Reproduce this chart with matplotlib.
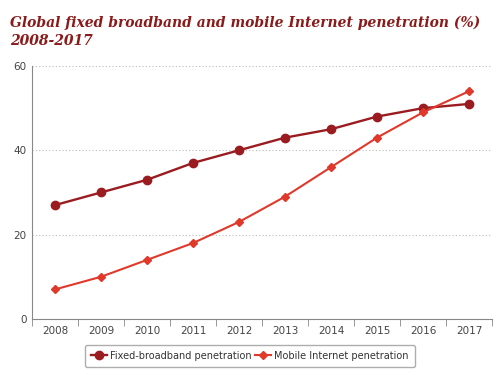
import matplotlib
matplotlib.use("Agg")
import matplotlib.pyplot as plt
import numpy as np

years = ["2008", "2009", "2010", "2011", "2012", "2013", "2014", "2015", "2016", "2017"]
fixed = [27, 30, 33, 37, 40, 43, 45, 48, 50, 51]
mobile = [7, 10, 14, 18, 23, 29, 36, 43, 49, 54]

fig = plt.figure(figsize=(5, 3.77), dpi=100)
ax = fig.add_axes([0.064, 0.154, 0.92, 0.671])

x = np.arange(len(years))
c_fixed = "#9b1c20"
c_mobile = "#e0392b"
ax.plot(x, fixed, color=c_fixed, marker="o", markersize=6, linewidth=1.7, label="Fixed-broadband penetration", zorder=3)
ax.plot(x, mobile, color=c_mobile, marker="D", markersize=4, linewidth=1.5, label="Mobile Internet penetration", zorder=4)

ax.set_xlim(-0.5, len(years) - 0.5)
ax.set_ylim(0, 60)
ax.set_yticks([0, 20, 40, 60])
ax.set_xticks(x)
ax.set_xticklabels(years)
ax.set_xticks(np.arange(-0.5, len(years), 1), minor=True)
ax.tick_params(axis="x", which="major", length=0, labelsize=7.5, colors="#444444", pad=5)
ax.tick_params(axis="x", which="minor", length=5, color="#888888")
ax.tick_params(axis="y", length=0, labelsize=7.5, colors="#444444", pad=4)
for yv in [20, 40, 60]:
    ax.axhline(yv, color="#bbbbbb", linestyle=(0, (1, 2)), linewidth=0.8, zorder=1)
for s in ["top", "right"]:
    ax.spines[s].set_visible(False)
for s in ["left", "bottom"]:
    ax.spines[s].set_color("#888888")
    ax.spines[s].set_linewidth(0.8)

fig.text(0.02, 0.915, "Global fixed broadband and mobile Internet penetration (%)\n2008-2017",
         fontsize=10, fontstyle="italic", fontweight="bold", family="DejaVu Serif",
         color="#8b1a1a", va="center", ha="left", linespacing=1.4)

leg = fig.legend(loc="center", bbox_to_anchor=(0.5, 0.056), ncol=2, fontsize=7,
                 frameon=True, fancybox=True, edgecolor="#999999", handlelength=1.6,
                 columnspacing=0.3, handletextpad=0.4, borderpad=0.6)
for t in leg.get_texts():
    t.set_color("#333333")

fig.savefig("out.png", dpi=100)
